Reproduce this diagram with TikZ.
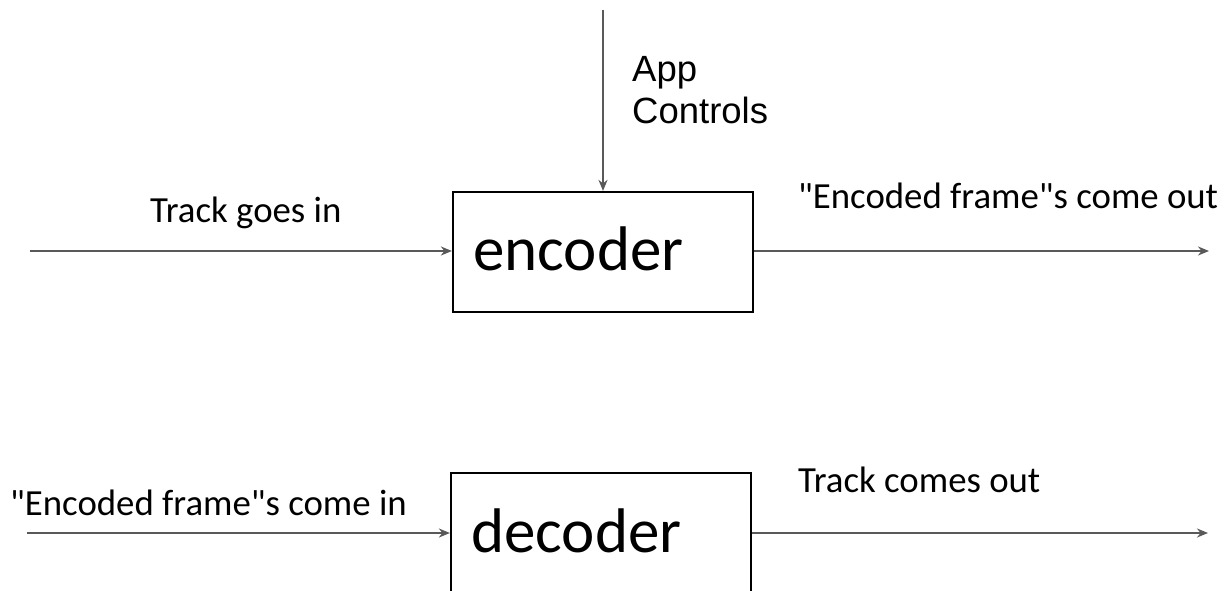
\documentclass[tikz,border=0pt]{standalone}
\usepackage{fontspec}
\setmainfont{Carlito}[Ligatures=TeXOff]
\newfontfamily\arialfont{Liberation Sans}
\usetikzlibrary{arrows.meta}
\definecolor{wire}{HTML}{595959}
\tikzset{
  blk/.style={draw=black, line width=2.2pt, minimum width=300pt, minimum height=120pt, inner sep=0pt},
  flow/.style={draw=wire, line width=2pt, -{Stealth[length=11pt,width=9pt,inset=3.5pt]}},
  lbl/.style={inner sep=0pt, font=\fontsize{36.8}{44}\selectfont},
  biglbl/.style={inner sep=0pt, font=\fontsize{63}{75}\selectfont},
  ctl/.style={inner sep=0pt, align=left, font=\arialfont\fontsize{36.5}{42}\selectfont}
}
\begin{document}
\begin{tikzpicture}[x=1pt, y=-1pt]
  \useasboundingbox (0,0) rectangle (1229,591);

  % encoder stage
  \node[blk] (enc) at (603,252) {};
  \node[biglbl, anchor=base west] (enctxt) at (473,270) {encoder};
  \coordinate (encin) at (30,251);
  \coordinate (encout) at (1209,251);
  \coordinate (ctltop) at (603,10);
  \draw[flow] (encin) -- (encin -| enc.west);
  \draw[flow] (enc.east |- encout) -- (encout);
  \draw[flow] (ctltop) -- (enc.north);
  \node[lbl, anchor=base west] (tgi) at (150,222) {Track goes in};
  \node[lbl, anchor=base west] (efo) at (798,208) {"Encoded frame"s come out};
  \node[ctl, anchor=base west] (app) at (632,124) {App\\Controls};

  % decoder stage
  \node[blk] (dec) at (601,533) {};
  \node[biglbl, anchor=base west] (dectxt) at (471,552) {decoder};
  \coordinate (decin) at (27,533);
  \coordinate (decout) at (1208,533);
  \draw[flow] (decin) -- (decin -| dec.west);
  \draw[flow] (dec.east |- decout) -- (decout);
  \node[lbl, anchor=base west] (efi) at (10,515) {"Encoded frame"s come in};
  \node[lbl, anchor=base west] (tco) at (798,492) {Track comes out};
\end{tikzpicture}
\end{document}
